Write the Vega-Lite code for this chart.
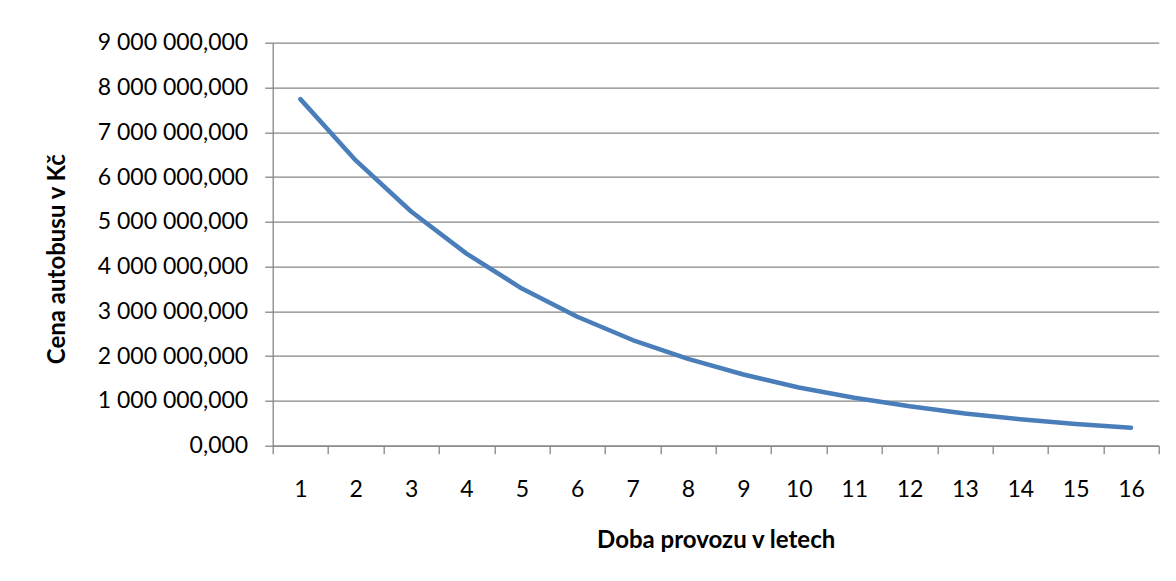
{
  "$schema": "https://vega.github.io/schema/vega-lite/v6.json",
  "autosize": "none",
  "width": 886,
  "height": 403,
  "padding": {"left": 272.7, "top": 42.7, "right": 17.3, "bottom": 135.3},
  "background": "white",
  "data": {
    "values": [
      {"rok": 1, "cena": 7740000},
      {"rok": 2, "cena": 6370000},
      {"rok": 3, "cena": 5230000},
      {"rok": 4, "cena": 4290000},
      {"rok": 5, "cena": 3510000},
      {"rok": 6, "cena": 2880000},
      {"rok": 7, "cena": 2360000},
      {"rok": 8, "cena": 1940000},
      {"rok": 9, "cena": 1590000},
      {"rok": 10, "cena": 1300000},
      {"rok": 11, "cena": 1070000},
      {"rok": 12, "cena": 880000},
      {"rok": 13, "cena": 720000},
      {"rok": 14, "cena": 590000},
      {"rok": 15, "cena": 485000},
      {"rok": 16, "cena": 400000}
    ]
  },
  "mark": {"type": "line", "color": "#4A7EBB", "strokeWidth": 4.5, "strokeCap": "round", "strokeJoin": "round"},
  "encoding": {
    "x": {
      "field": "rok",
      "type": "quantitative",
      "scale": {"domain": [0.5, 16.5], "nice": false, "zero": false},
      "axis": {
        "values": [0.5, 1.5, 2.5, 3.5, 4.5, 5.5, 6.5, 7.5, 8.5, 9.5, 10.5, 11.5, 12.5, 13.5, 14.5, 15.5, 16.5],
        "labelExpr": "datum.value < 16 ? format(datum.value + 0.5, 'd') : ''",
        "labelOffset": 27.7,
        "labelBaseline": "alphabetic",
        "labelPadding": 43,
        "labelFlush": false,
        "labelOverlap": false,
        "grid": false,
        "tickSize": 8,
        "title": "Doba provozu v letech",
        "titleY": 102,
        "titleBaseline": "alphabetic"
      }
    },
    "y": {
      "field": "cena",
      "type": "quantitative",
      "scale": {"domain": [0, 9000000], "nice": false},
      "axis": {
        "values": [0, 1000000, 2000000, 3000000, 4000000, 5000000, 6000000, 7000000, 8000000, 9000000],
        "labelExpr": "replace(replace(format(datum.value, ',.3f'), regexp(',', 'g'), ' '), '.', ',')",
        "labelPadding": 17,
        "labelFlush": false,
        "labelOverlap": false,
        "tickSize": 8,
        "grid": true,
        "title": "Cena autobusu v Kč",
        "titleAngle": -90,
        "titleX": -215,
        "titleY": 216,
        "titleAlign": "center",
        "titleBaseline": "middle"
      }
    }
  },
  "config": {
    "view": {"stroke": null},
    "axis": {
      "labelFont": "Lato",
      "labelFontSize": 23,
      "labelColor": "#000000",
      "titleFont": "Lato",
      "titleFontSize": 24,
      "titleFontWeight": "bold",
      "titleColor": "#000000",
      "domainColor": "#868686",
      "domainWidth": 1.3,
      "tickColor": "#868686",
      "tickWidth": 1.3,
      "gridColor": "#868686",
      "gridWidth": 1.3,
      "gridOpacity": 1
    }
  }
}
